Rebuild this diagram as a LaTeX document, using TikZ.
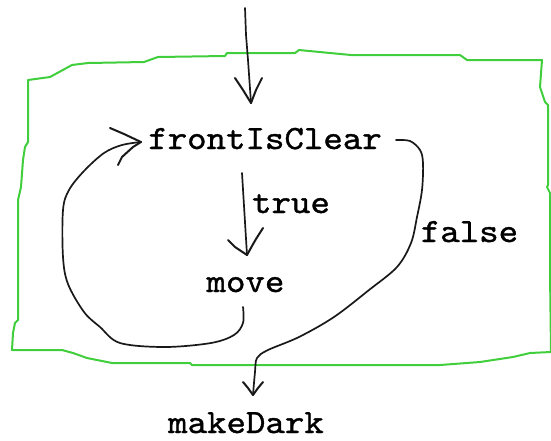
\documentclass[tikz,border=0pt]{standalone}
\usepackage{fontspec}
\setmonofont{lmmono10-regular.otf}[FakeBold=1.1, FakeStretch=1.09]
\definecolor{boxgreen}{RGB}{64,206,60}
\definecolor{pen}{RGB}{25,25,25}
\begin{document}
\begin{tikzpicture}[x=1pt,y=-1pt,
  word/.style={font=\ttfamily\fontsize{34}{34}\selectfont, inner sep=0pt, anchor=base, text=black},
  ink/.style={draw=pen, line width=1.7pt, line cap=round, line join=round},
  barb/.style={ink, line width=2pt},
  frame/.style={draw=boxgreen, line width=2pt, line join=round}]
\useasboundingbox (0,0) rectangle (551,440);

% hand-drawn loop body frame
\draw[frame] (28,80) -- (50,77) -- (72,65) -- (88,63) -- (144,62) -- (158,57)
  -- (225,56) -- (227,53) -- (295,53) -- (299,50) -- (330,53) -- (351,55)
  -- (460,55) -- (467,60) -- (542,60) -- (540,87) -- (545,102) -- (548,105)
  -- (548,185) -- (547,187) -- (550,193) -- (550,273) -- (551,352)
  -- (530,353) -- (513,357) -- (480,362) -- (440,365) -- (192,365) -- (190,363)
  -- (112,363) -- (87,358) -- (73,353) -- (62,350) -- (12,350) -- (13,333)
  -- (15,323) -- (18,320) -- (18,200) -- (21,187) -- (23,160) -- (25,147)
  -- (28,142) -- cycle;

% statements
\node[word] (fic)  at (265,149) {frontIsClear};
\node[word] (move) at (245.5,292) {move};
\node[word] (dark) at (246,433) {makeDark};
\node[word] (tlbl) at (291,213) {true};
\node[word] (flbl) at (469.5,242) {false};

% connector end points next to the statements
\coordinate (entry)   at (245,8);
\coordinate (ficTop)  at (251,103);
\coordinate (ficBot)  at (242,173);
\coordinate (ficLeft) at (141,142);
\coordinate (ficRight) at (396,140);
\coordinate (moveTop) at (247,255);
\coordinate (moveBot) at (243,307);
\coordinate (darkTop) at (253,395);

% entry arrow
\draw[ink] (entry) -- (246,35) -- (248,60) -- (ficTop);
\draw[barb] (235,78) -- (243,90) -- (ficTop);
\draw[barb] (262,78) -- (256,90) -- (ficTop);

% true branch
\draw[ink] (ficBot) -- (moveTop);
\draw[barb] (228,240) -- (235,247) -- (moveTop);
\draw[barb] (263,228) -- (256,239) -- (252,246) -- (moveTop);

% back edge of the loop
\draw[ink] plot[smooth, tension=0.55] coordinates {
  (moveBot) (243,323) (234,335) (211,343) (165,347) (120,343)
  (100,327) (84,312) (68,284) (63,257) (63,210) (69,190)
  (84,171) (104,153) (122,145) (ficLeft)};
\draw[barb] (110,128) -- (124,134) -- (ficLeft);
\draw[barb] (118,165) -- (122,157) -- (133,147) -- (ficLeft);

% false branch
\draw[ink] plot[smooth, tension=0.55] coordinates {
  (ficRight) (410,141) (420,150) (423,163) (422,190) (417,217)
  (411,243) (397,267) (369,290) (334,317) (299,337) (268,350)
  (257,358) (255,372) (darkTop)};
\draw[barb] (243,382) -- (248,388) -- (darkTop);
\draw[barb] (263,382) -- (258,388) -- (darkTop);
\end{tikzpicture}
\end{document}
